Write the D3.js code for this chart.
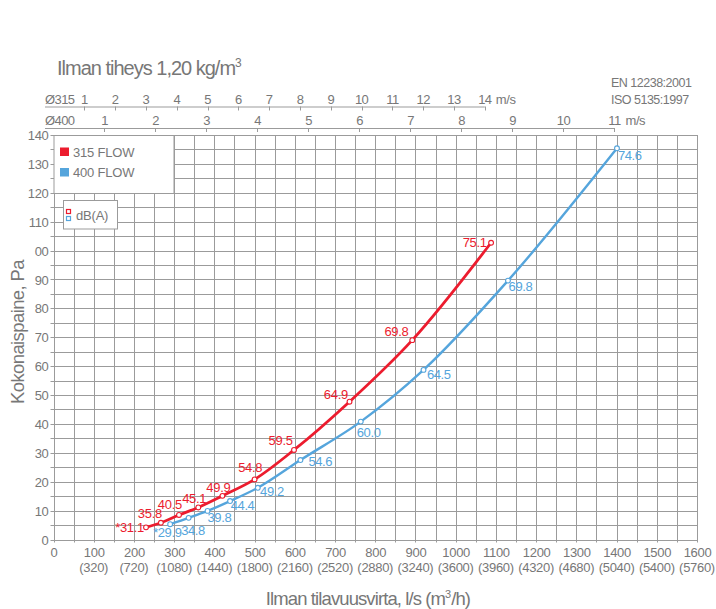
<!DOCTYPE html>
<html>
<head>
<meta charset="utf-8">
<script src="https://cdn.jsdelivr.net/npm/d3@7"></script>
<style>
  body { margin: 0; background: #fff; }
  svg { display: block; font-family: "Liberation Sans", Arial, sans-serif; }
</style>
</head>
<body>
<svg id="chart" width="716" height="609"></svg>
<script>
// Airflow (l/s) against total pressure (Pa) for two duct sizes, with sound level at each point.

const flowTicks = [0, 100, 200, 300, 400, 500, 600, 700, 800, 900, 1000, 1100, 1200, 1300, 1400, 1500, 1600];
const flowTickLabels = ["0", "100", "200", "300", "400", "500", "600", "700", "800", "900", "1000", "1100", "1200", "1300", "1400", "1500", "1600"];
const m3hTickLabels = ["", "(320)", "(720)", "(1080)", "(1440)", "(1800)", "(2160)", "(2520)", "(2880)", "(3240)", "(3600)", "(3960)", "(4320)", "(4680)", "(5040)", "(5400)", "(5760)"];

const pressureTicks = [0, 10, 20, 30, 40, 50, 60, 70, 80, 90, 100, 110, 120, 130, 140];
const pressureTickLabels = ["0", "10", "20", "30", "40", "50", "60", "70", "80", "90", "00", "110", "120", "130", "140"];

// Air velocity scales (m/s) for each duct diameter
const velocity315Ticks = [1, 2, 3, 4, 5, 6, 7, 8, 9, 10, 11, 12, 13, 14];
const velocity400Ticks = [1, 2, 3, 4, 5, 6, 7, 8, 9, 10, 11];
const flowPerVelocity315 = 76.6;   // l/s per m/s
const flowPerVelocity400 = 126.8;  // l/s per m/s

// Ø315 series
const flow315 = [230, 267, 312, 360, 420, 500, 598, 736, 892, 1088];
const pressure315 = [4.2, 5.8, 8.5, 11.1, 15.1, 20.8, 31.0, 47.7, 69.0, 102.7];
const sound315 = ["*31.1", "35.8", "40.5", "45.1", "49.9", "54.8", "59.5", "64.9", "69.8", "75.1"];

// Ø400 series
const flow400 = [290, 336, 383, 439, 508, 614, 764, 920, 1130, 1401];
const pressure400 = [5.3, 7.5, 9.9, 13.3, 17.9, 27.5, 40.8, 58.7, 89.6, 135.4];
const sound400 = ["*29.9", "34.8", "39.8", "44.4", "49.2", "54.6", "60.0", "64.5", "69.8", "74.6"];

const seriesNames = ["315 FLOW", "400 FLOW"];

const RED = "#ec1c2e";
const BLUE = "#55a5dc";
const GRID = "#9b9b9b";
const TEXT = "#777";

const svg = d3.select("#chart");

const x = d3.scaleLinear().domain([0, 1600]).range([53.5, 697]);
const y = d3.scaleLinear().domain([0, 140]).range([539.5, 135]);

// ---- grid ----
const grid = svg.append("g");
grid.append("rect")
  .attr("x", x(0)).attr("y", y(140))
  .attr("width", x(1600) - x(0)).attr("height", y(0) - y(140))
  .attr("fill", "#fff");

const vLines = d3.range(0, 1601, 50);
grid.selectAll("line.v").data(vLines).join("line")
  .attr("class", "v")
  .attr("x1", d => Math.round(x(d)) + 0.5).attr("x2", d => Math.round(x(d)) + 0.5)
  .attr("y1", y(140)).attr("y2", y(0) + 3)
  .attr("stroke", GRID).attr("stroke-width", 1);

const hLines = d3.range(0, 141, 5);
grid.selectAll("line.h").data(hLines).join("line")
  .attr("class", "h")
  .attr("x1", x(0) - 3).attr("x2", x(1600))
  .attr("y1", d => Math.round(y(d)) + 0.5).attr("y2", d => Math.round(y(d)) + 0.5)
  .attr("stroke", GRID).attr("stroke-width", 1);

// ---- axis labels ----
const xAxis = d3.axisBottom(x).tickValues(flowTicks).tickSize(0)
  .tickFormat((d, i) => flowTickLabels[i]);
const gx = svg.append("g").attr("transform", `translate(0,${y(0)})`).call(xAxis);
gx.select(".domain").remove();
gx.selectAll("text")
  .attr("y", 17).attr("dy", 0)
  .attr("fill", TEXT).attr("font-size", 13).attr("letter-spacing", -0.3)
  .attr("font-family", "Liberation Sans, Arial, sans-serif");

svg.append("g").selectAll("text").data(flowTicks).join("text")
  .attr("x", d => x(d)).attr("y", y(0) + 32)
  .attr("text-anchor", "middle")
  .attr("fill", TEXT).attr("font-size", 13).attr("letter-spacing", -0.3)
  .text((d, i) => m3hTickLabels[i]);

const yAxis = d3.axisLeft(y).tickValues(pressureTicks).tickSize(0)
  .tickFormat((d, i) => pressureTickLabels[i]);
const gy = svg.append("g").attr("transform", `translate(${x(0)},0)`).call(yAxis);
gy.select(".domain").remove();
gy.selectAll("text")
  .attr("x", -5).attr("dy", "0.35em")
  .attr("fill", TEXT).attr("font-size", 13).attr("letter-spacing", -0.3)
  .attr("font-family", "Liberation Sans, Arial, sans-serif");

// ---- titles ----
svg.append("text")
  .attr("x", 57).attr("y", 75)
  .attr("fill", TEXT).attr("font-size", 20).attr("letter-spacing", -1.0)
  .text("Ilman tiheys 1,20 kg/m")
  .append("tspan").attr("dy", -8).attr("font-size", 12).attr("letter-spacing", 0).text("3");

svg.append("text")
  .attr("x", 611).attr("y", 87)
  .attr("fill", TEXT).attr("font-size", 12.5).attr("letter-spacing", -0.5)
  .text("EN 12238:2001");
svg.append("text")
  .attr("x", 611).attr("y", 104)
  .attr("fill", TEXT).attr("font-size", 12.5).attr("letter-spacing", -0.5)
  .text("ISO 5135:1997");

svg.append("text")
  .attr("transform", `translate(24,332) rotate(-90)`)
  .attr("text-anchor", "middle")
  .attr("fill", TEXT).attr("font-size", 18.5).attr("letter-spacing", -0.6)
  .text("Kokonaispaine, Pa");

const xTitle = svg.append("text")
  .attr("x", 368).attr("y", 605)
  .attr("text-anchor", "middle")
  .attr("fill", TEXT).attr("font-size", 18.5).attr("letter-spacing", -0.9);
xTitle.append("tspan").text("Ilman tilavuusvirta, l/s (m");
xTitle.append("tspan").attr("dy", -7).attr("font-size", 11).attr("letter-spacing", 0).text("3");
xTitle.append("tspan").attr("dy", 7).text("/h)");

// ---- velocity scales ----
function velocityScale(ticks, perVel, yLine, name) {
  const g = svg.append("g");
  const pos = v => x(v * perVel);
  const last = ticks[ticks.length - 1];
  g.append("line")
    .attr("x1", 45).attr("x2", pos(last))
    .attr("y1", yLine + 0.5).attr("y2", yLine + 0.5)
    .attr("stroke", GRID).attr("stroke-width", 1.2);
  g.selectAll("line.t").data(ticks).join("line")
    .attr("class", "t")
    .attr("x1", d => Math.round(pos(d)) + 0.5).attr("x2", d => Math.round(pos(d)) + 0.5)
    .attr("y1", yLine).attr("y2", yLine + 4)
    .attr("stroke", GRID).attr("stroke-width", 1);
  g.selectAll("text.t").data(ticks).join("text")
    .attr("class", "t")
    .attr("x", d => pos(d)).attr("y", yLine - 3)
    .attr("text-anchor", "middle")
    .attr("fill", TEXT).attr("font-size", 13).attr("letter-spacing", -0.6)
    .text(d => d);
  g.append("text")
    .attr("x", pos(last) + 11).attr("y", yLine - 3)
    .attr("fill", TEXT).attr("font-size", 13).attr("letter-spacing", -0.4)
    .text("m/s");
  g.append("text")
    .attr("x", 45).attr("y", yLine - 3)
    .attr("fill", TEXT).attr("font-size", 13).attr("letter-spacing", -0.6)
    .text(name);
}
velocityScale(velocity315Ticks, flowPerVelocity315, 106.5, "Ø315");
velocityScale(velocity400Ticks, flowPerVelocity400, 128, "Ø400");

// ---- series ----
const line = d3.line().x(d => x(d[0])).y(d => y(d[1])).curve(d3.curveMonotoneX);

const data315 = flow315.map((f, i) => [f, pressure315[i], sound315[i]]);
const data400 = flow400.map((f, i) => [f, pressure400[i], sound400[i]]);

svg.append("path").datum(data400).attr("d", line)
  .attr("fill", "none").attr("stroke", BLUE).attr("stroke-width", 2.4);
svg.append("path").datum(data315).attr("d", line)
  .attr("fill", "none").attr("stroke", RED).attr("stroke-width", 2.8);

function markers(data, color) {
  svg.append("g").selectAll("circle").data(data).join("circle")
    .attr("cx", d => x(d[0])).attr("cy", d => y(d[1])).attr("r", 2.4)
    .attr("fill", "#fff").attr("stroke", color).attr("stroke-width", 1.1);
}
markers(data400, BLUE);
markers(data315, RED);

// label placement offsets, in px from each point
const offsets315 = [[-2, 4.5], [1, -4.5], [3, -6], [8, -4.6], [8, -4.3], [7.7, -7.6], [-1.3, -5], [-1.6, -2.7], [-3.7, -4.3], [-4.3, 4]];
const offsets400 = [[-17, 12.7], [-7.5, 17], [0, 10.7], [0.7, 9], [2.3, 8.3], [8, 6], [-4, 15], [3.4, 9], [0.6, 10], [1, 12]];

svg.append("g").selectAll("text").data(data315).join("text")
  .attr("x", (d, i) => x(d[0]) + offsets315[i][0])
  .attr("y", (d, i) => y(d[1]) + offsets315[i][1])
  .attr("text-anchor", "end")
  .attr("fill", RED).attr("font-size", 13).attr("letter-spacing", -0.3)
  .text(d => d[2]);

svg.append("g").selectAll("text").data(data400).join("text")
  .attr("x", (d, i) => x(d[0]) + offsets400[i][0])
  .attr("y", (d, i) => y(d[1]) + offsets400[i][1])
  .attr("text-anchor", "start")
  .attr("fill", BLUE).attr("font-size", 13).attr("letter-spacing", -0.4)
  .text(d => d[2]);

// ---- legend ----
const legend = svg.append("g");
legend.append("rect")
  .attr("x", x(0) + 0.5).attr("y", Math.round(y(140)) + 0.5)
  .attr("width", Math.round(x(300)) - Math.round(x(0))).attr("height", Math.round(y(120)) - Math.round(y(140)))
  .attr("fill", "#fff").attr("stroke", GRID).attr("stroke-width", 1);
[RED, BLUE].forEach((c, i) => {
  legend.append("rect")
    .attr("x", 60).attr("y", 147.5 + i * 20.5).attr("width", 9).attr("height", 8.5)
    .attr("fill", c);
  legend.append("text")
    .attr("x", 73).attr("y", 156.5 + i * 20.5)
    .attr("fill", TEXT).attr("font-size", 13).attr("letter-spacing", -0.2)
    .text(seriesNames[i]);
});

legend.append("rect")
  .attr("x", 63.5).attr("y", 200.5).attr("width", 54).attr("height", 28.5)
  .attr("fill", "#fff").attr("stroke", GRID).attr("stroke-width", 1);
[RED, BLUE].forEach((c, i) => {
  legend.append("rect")
    .attr("x", 66.5).attr("y", 209.5 + i * 7).attr("width", 4).attr("height", 4)
    .attr("fill", "#fff").attr("stroke", c).attr("stroke-width", 1.2);
});
legend.append("text")
  .attr("x", 76).attr("y", 220)
  .attr("fill", TEXT).attr("font-size", 13).attr("letter-spacing", -0.2)
  .text("dB(A)");
</script>
</body>
</html>
